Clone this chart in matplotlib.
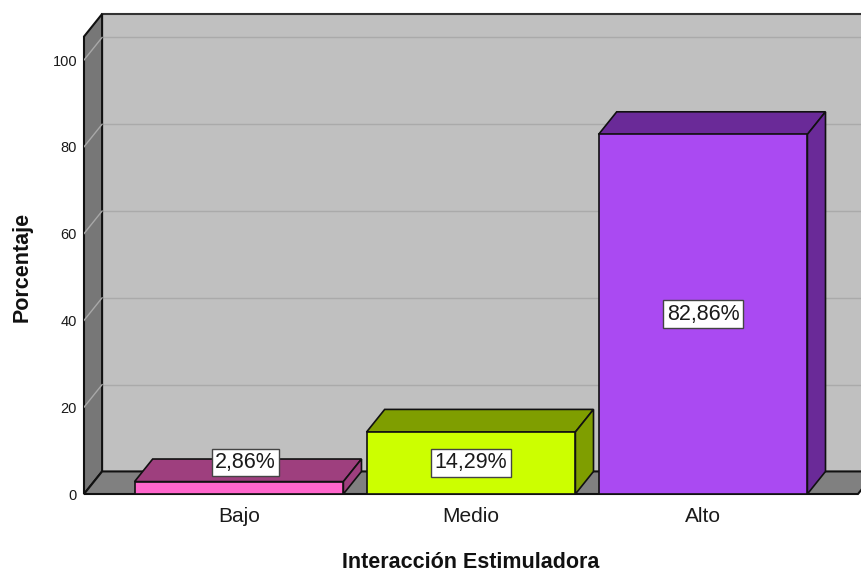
import matplotlib.pyplot as plt
from matplotlib.patches import Polygon, Rectangle

plt.rcParams["font.family"] = ["Liberation Sans", "DejaVu Sans"]

categories = ["Bajo", "Medio", "Alto"]
percentages = [2.86, 14.29, 82.86]
value_labels = ["2,86%", "14,29%", "82,86%"]
yticks = [0, 20, 40, 60, 80, 100]

front_colors = ["#ff66cc", "#ccff00", "#aa4af2"]
dark_colors = ["#9e3f7e", "#7f9e00", "#6a2a98"]

# 3D depth offset in data units
dx = 0.078
dy = 5.2
bar_w = 0.9

W, H = 861, 573
fig = plt.figure(figsize=(W / 100, H / 100), dpi=100)
ax = fig.add_axes([84 / W, (H - 494) / H, (W - 84) / W, (494 - 14) / H])

x_left, x_right = -0.668, 2.681
y_top = 110.6
ax.set_xlim(x_left, x_right)
ax.set_ylim(0, y_top)
for s in ax.spines.values():
    s.set_visible(False)

# back wall
ax.add_patch(Rectangle((x_left + dx, dy), x_right - x_left, y_top - dy,
                       facecolor="#c0c0c0", edgecolor="none", zorder=0))
ax.plot([x_left + dx, x_right], [y_top, y_top], color="#333333", lw=1.5,
        zorder=1, clip_on=False)
# gridlines on back wall and left wall
for t in yticks[1:]:
    ax.plot([x_left + dx, x_right], [t + dy, t + dy], color="#aaaaaa", lw=1, zorder=1)
# left wall
ax.add_patch(Polygon([(x_left, 0), (x_left, y_top - dy), (x_left + dx, y_top),
                      (x_left + dx, dy)], closed=True, facecolor="#777777",
                     edgecolor="#111111", lw=1.5, zorder=2, clip_on=False))
for t in yticks[1:]:
    ax.plot([x_left, x_left + dx], [t, t + dy], color="#a8a8a8", lw=1, zorder=2)
# floor
floor_r = 2.668
ax.add_patch(Polygon([(x_left, 0), (x_left + dx, dy), (floor_r + dx, dy),
                      (floor_r, 0)], closed=True, facecolor="#808080",
                     edgecolor="#111111", lw=1.5, zorder=2, clip_on=False))

# bars
for i, (v, fc, dc, lab) in enumerate(zip(percentages, front_colors, dark_colors, value_labels)):
    x0, x1 = i - bar_w / 2, i + bar_w / 2
    ax.add_patch(Polygon([(x0, v), (x1, v), (x1 + dx, v + dy), (x0 + dx, v + dy)],
                         closed=True, facecolor=dc, edgecolor="#111111", lw=1.2, zorder=3))
    ax.add_patch(Polygon([(x1, 0), (x1 + dx, dy), (x1 + dx, v + dy), (x1, v)],
                         closed=True, facecolor=dc, edgecolor="#111111", lw=1.2, zorder=3))
    ax.add_patch(Rectangle((x0, 0), bar_w, v, facecolor=fc, edgecolor="#111111",
                           lw=1.2, zorder=4))
    if v < 6:
        lx, ly = i + dx / 2 - 0.01, v + dy * 0.85
    else:
        lx, ly = i, v / 2
    ax.text(lx, ly, lab, ha="center", va="center", fontsize=15.5, color="#1a1a1a",
            zorder=6, bbox=dict(boxstyle="square,pad=0.15", facecolor="white",
                                edgecolor="#444444", lw=1))

ax.set_yticks(yticks)
ax.set_yticklabels([str(t) for t in yticks], fontsize=10.5, color="#1a1a1a")
ax.set_xticks(range(len(categories)))
ax.set_xticklabels(categories, fontsize=15, color="#1a1a1a")
ax.tick_params(axis="y", length=0, pad=5)
ax.tick_params(axis="x", length=0, pad=9)

fig.text(22 / W, 1 - 267 / H, "Porcentaje", rotation=90, ha="center", va="center",
         fontsize=15.5, fontweight="bold", color="#111111")
fig.text(471 / W, 1 - 563 / H, "Interacción Estimuladora", ha="center", va="center",
         fontsize=15.5, fontweight="bold", color="#111111")

fig.savefig("out.png", dpi=100)
